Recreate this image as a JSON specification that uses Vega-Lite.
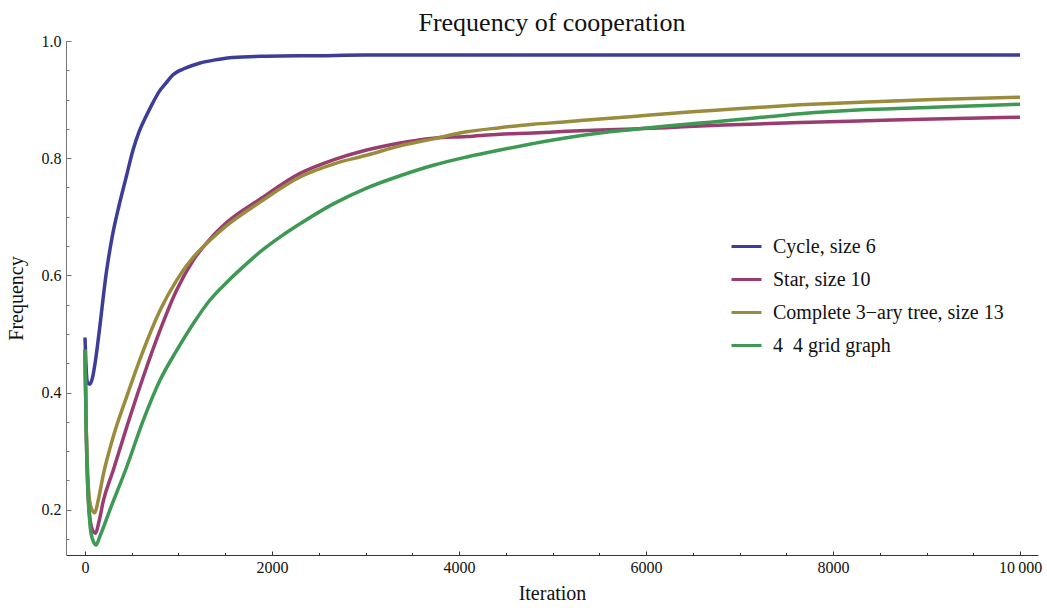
{
  "$schema": "https://vega.github.io/schema/vega-lite/v6.json",
  "width": 972,
  "height": 514,
  "autosize": {"type": "none"},
  "padding": {"left": 66, "top": 41, "right": 9, "bottom": 53},
  "background": "white",
  "title": {"text": "Frequency of cooperation", "font": "Liberation Serif", "fontSize": 26, "fontWeight": "normal", "color": "#111111", "anchor": "middle", "offset": -3},
  "config": {
    "view": {"stroke": null},
    "axis": {"grid": false, "labelFont": "Liberation Serif", "titleFont": "Liberation Serif", "labelColor": "#111111", "titleColor": "#111111", "titleFontWeight": "normal"}
  },
  "data": {"values": [
    {"series": "Cycle, size 6", "iteration": 0, "freq": 0.494},
    {"series": "Cycle, size 6", "iteration": 10, "freq": 0.45},
    {"series": "Cycle, size 6", "iteration": 25, "freq": 0.418},
    {"series": "Cycle, size 6", "iteration": 50, "freq": 0.414},
    {"series": "Cycle, size 6", "iteration": 80, "freq": 0.425},
    {"series": "Cycle, size 6", "iteration": 110, "freq": 0.452},
    {"series": "Cycle, size 6", "iteration": 153, "freq": 0.505},
    {"series": "Cycle, size 6", "iteration": 225, "freq": 0.601},
    {"series": "Cycle, size 6", "iteration": 296, "freq": 0.67},
    {"series": "Cycle, size 6", "iteration": 367, "freq": 0.721},
    {"series": "Cycle, size 6", "iteration": 438, "freq": 0.766},
    {"series": "Cycle, size 6", "iteration": 510, "freq": 0.812},
    {"series": "Cycle, size 6", "iteration": 581, "freq": 0.846},
    {"series": "Cycle, size 6", "iteration": 652, "freq": 0.871},
    {"series": "Cycle, size 6", "iteration": 724, "freq": 0.894},
    {"series": "Cycle, size 6", "iteration": 795, "freq": 0.914},
    {"series": "Cycle, size 6", "iteration": 866, "freq": 0.928},
    {"series": "Cycle, size 6", "iteration": 938, "freq": 0.942},
    {"series": "Cycle, size 6", "iteration": 1080, "freq": 0.954},
    {"series": "Cycle, size 6", "iteration": 1223, "freq": 0.962},
    {"series": "Cycle, size 6", "iteration": 1401, "freq": 0.968},
    {"series": "Cycle, size 6", "iteration": 1580, "freq": 0.972},
    {"series": "Cycle, size 6", "iteration": 1936, "freq": 0.974},
    {"series": "Cycle, size 6", "iteration": 2500, "freq": 0.975},
    {"series": "Cycle, size 6", "iteration": 3000, "freq": 0.976},
    {"series": "Cycle, size 6", "iteration": 4000, "freq": 0.976},
    {"series": "Cycle, size 6", "iteration": 5000, "freq": 0.976},
    {"series": "Cycle, size 6", "iteration": 6000, "freq": 0.976},
    {"series": "Cycle, size 6", "iteration": 7000, "freq": 0.976},
    {"series": "Cycle, size 6", "iteration": 8000, "freq": 0.976},
    {"series": "Cycle, size 6", "iteration": 9000, "freq": 0.976},
    {"series": "Cycle, size 6", "iteration": 10000, "freq": 0.976},

    {"series": "Star, size 10", "iteration": 0, "freq": 0.473},
    {"series": "Star, size 10", "iteration": 15, "freq": 0.32},
    {"series": "Star, size 10", "iteration": 30, "freq": 0.235},
    {"series": "Star, size 10", "iteration": 50, "freq": 0.19},
    {"series": "Star, size 10", "iteration": 75, "freq": 0.168},
    {"series": "Star, size 10", "iteration": 112, "freq": 0.16},
    {"series": "Star, size 10", "iteration": 150, "freq": 0.18},
    {"series": "Star, size 10", "iteration": 196, "freq": 0.215},
    {"series": "Star, size 10", "iteration": 303, "freq": 0.268},
    {"series": "Star, size 10", "iteration": 446, "freq": 0.341},
    {"series": "Star, size 10", "iteration": 624, "freq": 0.427},
    {"series": "Star, size 10", "iteration": 802, "freq": 0.506},
    {"series": "Star, size 10", "iteration": 981, "freq": 0.575},
    {"series": "Star, size 10", "iteration": 1159, "freq": 0.626},
    {"series": "Star, size 10", "iteration": 1337, "freq": 0.662},
    {"series": "Star, size 10", "iteration": 1515, "freq": 0.69},
    {"series": "Star, size 10", "iteration": 1872, "freq": 0.73},
    {"series": "Star, size 10", "iteration": 2300, "freq": 0.774},
    {"series": "Star, size 10", "iteration": 2656, "freq": 0.797},
    {"series": "Star, size 10", "iteration": 3012, "freq": 0.814},
    {"series": "Star, size 10", "iteration": 3369, "freq": 0.826},
    {"series": "Star, size 10", "iteration": 3725, "freq": 0.834},
    {"series": "Star, size 10", "iteration": 4082, "freq": 0.837},
    {"series": "Star, size 10", "iteration": 4438, "freq": 0.841},
    {"series": "Star, size 10", "iteration": 4795, "freq": 0.843},
    {"series": "Star, size 10", "iteration": 5151, "freq": 0.846},
    {"series": "Star, size 10", "iteration": 5508, "freq": 0.848},
    {"series": "Star, size 10", "iteration": 5864, "freq": 0.85},
    {"series": "Star, size 10", "iteration": 6221, "freq": 0.852},
    {"series": "Star, size 10", "iteration": 6577, "freq": 0.855},
    {"series": "Star, size 10", "iteration": 6934, "freq": 0.857},
    {"series": "Star, size 10", "iteration": 7647, "freq": 0.861},
    {"series": "Star, size 10", "iteration": 8360, "freq": 0.864},
    {"series": "Star, size 10", "iteration": 9073, "freq": 0.867},
    {"series": "Star, size 10", "iteration": 10000, "freq": 0.87},

    {"series": "Complete 3−ary tree, size 13", "iteration": 0, "freq": 0.473},
    {"series": "Complete 3−ary tree, size 13", "iteration": 15, "freq": 0.33},
    {"series": "Complete 3−ary tree, size 13", "iteration": 30, "freq": 0.26},
    {"series": "Complete 3−ary tree, size 13", "iteration": 50, "freq": 0.215},
    {"series": "Complete 3−ary tree, size 13", "iteration": 75, "freq": 0.2},
    {"series": "Complete 3−ary tree, size 13", "iteration": 105, "freq": 0.195},
    {"series": "Complete 3−ary tree, size 13", "iteration": 140, "freq": 0.215},
    {"series": "Complete 3−ary tree, size 13", "iteration": 196, "freq": 0.26},
    {"series": "Complete 3−ary tree, size 13", "iteration": 303, "freq": 0.325},
    {"series": "Complete 3−ary tree, size 13", "iteration": 446, "freq": 0.393},
    {"series": "Complete 3−ary tree, size 13", "iteration": 624, "freq": 0.472},
    {"series": "Complete 3−ary tree, size 13", "iteration": 802, "freq": 0.54},
    {"series": "Complete 3−ary tree, size 13", "iteration": 981, "freq": 0.592},
    {"series": "Complete 3−ary tree, size 13", "iteration": 1159, "freq": 0.631},
    {"series": "Complete 3−ary tree, size 13", "iteration": 1337, "freq": 0.66},
    {"series": "Complete 3−ary tree, size 13", "iteration": 1515, "freq": 0.685},
    {"series": "Complete 3−ary tree, size 13", "iteration": 1872, "freq": 0.725},
    {"series": "Complete 3−ary tree, size 13", "iteration": 2300, "freq": 0.768},
    {"series": "Complete 3−ary tree, size 13", "iteration": 2656, "freq": 0.79},
    {"series": "Complete 3−ary tree, size 13", "iteration": 3012, "freq": 0.805},
    {"series": "Complete 3−ary tree, size 13", "iteration": 3369, "freq": 0.821},
    {"series": "Complete 3−ary tree, size 13", "iteration": 3725, "freq": 0.833},
    {"series": "Complete 3−ary tree, size 13", "iteration": 4082, "freq": 0.845},
    {"series": "Complete 3−ary tree, size 13", "iteration": 4438, "freq": 0.852},
    {"series": "Complete 3−ary tree, size 13", "iteration": 4795, "freq": 0.858},
    {"series": "Complete 3−ary tree, size 13", "iteration": 5151, "freq": 0.862},
    {"series": "Complete 3−ary tree, size 13", "iteration": 5508, "freq": 0.867},
    {"series": "Complete 3−ary tree, size 13", "iteration": 5864, "freq": 0.871},
    {"series": "Complete 3−ary tree, size 13", "iteration": 6221, "freq": 0.876},
    {"series": "Complete 3−ary tree, size 13", "iteration": 6577, "freq": 0.88},
    {"series": "Complete 3−ary tree, size 13", "iteration": 6934, "freq": 0.884},
    {"series": "Complete 3−ary tree, size 13", "iteration": 7647, "freq": 0.891},
    {"series": "Complete 3−ary tree, size 13", "iteration": 8360, "freq": 0.896},
    {"series": "Complete 3−ary tree, size 13", "iteration": 9073, "freq": 0.9},
    {"series": "Complete 3−ary tree, size 13", "iteration": 10000, "freq": 0.904},

    {"series": "4\u00a0\u00a04 grid graph", "iteration": 0, "freq": 0.473},
    {"series": "4\u00a0\u00a04 grid graph", "iteration": 10, "freq": 0.36},
    {"series": "4\u00a0\u00a04 grid graph", "iteration": 18, "freq": 0.302},
    {"series": "4\u00a0\u00a04 grid graph", "iteration": 36, "freq": 0.217},
    {"series": "4\u00a0\u00a04 grid graph", "iteration": 53, "freq": 0.175},
    {"series": "4\u00a0\u00a04 grid graph", "iteration": 80, "freq": 0.15},
    {"series": "4\u00a0\u00a04 grid graph", "iteration": 118, "freq": 0.14},
    {"series": "4\u00a0\u00a04 grid graph", "iteration": 160, "freq": 0.155},
    {"series": "4\u00a0\u00a04 grid graph", "iteration": 267, "freq": 0.2},
    {"series": "4\u00a0\u00a04 grid graph", "iteration": 446, "freq": 0.273},
    {"series": "4\u00a0\u00a04 grid graph", "iteration": 624, "freq": 0.353},
    {"series": "4\u00a0\u00a04 grid graph", "iteration": 802, "freq": 0.421},
    {"series": "4\u00a0\u00a04 grid graph", "iteration": 981, "freq": 0.472},
    {"series": "4\u00a0\u00a04 grid graph", "iteration": 1159, "freq": 0.518},
    {"series": "4\u00a0\u00a04 grid graph", "iteration": 1337, "freq": 0.558},
    {"series": "4\u00a0\u00a04 grid graph", "iteration": 1515, "freq": 0.588},
    {"series": "4\u00a0\u00a04 grid graph", "iteration": 1694, "freq": 0.615},
    {"series": "4\u00a0\u00a04 grid graph", "iteration": 1872, "freq": 0.64},
    {"series": "4\u00a0\u00a04 grid graph", "iteration": 2100, "freq": 0.667},
    {"series": "4\u00a0\u00a04 grid graph", "iteration": 2300, "freq": 0.688},
    {"series": "4\u00a0\u00a04 grid graph", "iteration": 2656, "freq": 0.722},
    {"series": "4\u00a0\u00a04 grid graph", "iteration": 3012, "freq": 0.749},
    {"series": "4\u00a0\u00a04 grid graph", "iteration": 3369, "freq": 0.77},
    {"series": "4\u00a0\u00a04 grid graph", "iteration": 3725, "freq": 0.788},
    {"series": "4\u00a0\u00a04 grid graph", "iteration": 4082, "freq": 0.802},
    {"series": "4\u00a0\u00a04 grid graph", "iteration": 4438, "freq": 0.814},
    {"series": "4\u00a0\u00a04 grid graph", "iteration": 4795, "freq": 0.825},
    {"series": "4\u00a0\u00a04 grid graph", "iteration": 5151, "freq": 0.835},
    {"series": "4\u00a0\u00a04 grid graph", "iteration": 5508, "freq": 0.843},
    {"series": "4\u00a0\u00a04 grid graph", "iteration": 5864, "freq": 0.849},
    {"series": "4\u00a0\u00a04 grid graph", "iteration": 6221, "freq": 0.855},
    {"series": "4\u00a0\u00a04 grid graph", "iteration": 6577, "freq": 0.86},
    {"series": "4\u00a0\u00a04 grid graph", "iteration": 6934, "freq": 0.865},
    {"series": "4\u00a0\u00a04 grid graph", "iteration": 7647, "freq": 0.876},
    {"series": "4\u00a0\u00a04 grid graph", "iteration": 8360, "freq": 0.883},
    {"series": "4\u00a0\u00a04 grid graph", "iteration": 9073, "freq": 0.887},
    {"series": "4\u00a0\u00a04 grid graph", "iteration": 10000, "freq": 0.892}
  ]},
  "layer": [
    {
      "mark": {"type": "line", "strokeWidth": 3.5, "interpolate": "monotone", "clip": true},
      "encoding": {
        "x": {
          "field": "iteration", "type": "quantitative",
          "scale": {"domain": [-203, 10192], "nice": false, "zero": false},
          "axis": {"orient": "bottom", "values": [0, 2000, 4000, 6000, 8000, 10000], "format": "d",
                   "labelExpr": "datum.value == 10000 ? '10\u2009000' : datum.label",
                   "tickSize": -4, "labelPadding": 8, "labelFontSize": 16, "tickColor": "#333333", "domainColor": "#333333",
                   "title": "Iteration", "titleFontSize": 20, "titlePadding": 8}
        },
        "y": {
          "field": "freq", "type": "quantitative",
          "scale": {"domain": [0.1228, 1.0], "nice": false, "zero": false},
          "axis": {"orient": "left", "values": [0.2, 0.4, 0.6, 0.8, 1.0], "format": ".1f",
                   "tickSize": -5, "labelPadding": 10, "labelFontSize": 16, "tickColor": "#777777", "domainColor": "#777777",
                   "title": "Frequency", "titleFontSize": 20, "titlePadding": 15}
        },
        "color": {
          "field": "series", "type": "nominal",
          "scale": {
            "domain": ["Cycle, size 6", "Star, size 10", "Complete 3−ary tree, size 13", "4\u00a0\u00a04 grid graph"],
            "range": ["#3d3d99", "#993d71", "#998c3d", "#3d9954"]
          },
          "legend": {"orient": "none", "legendX": 664, "legendY": 189, "title": null, "symbolType": "stroke", "symbolSize": 900,
                     "symbolStrokeWidth": 3, "labelFont": "Liberation Serif", "labelFontSize": 20, "labelColor": "#111111",
                     "labelOffset": 10, "rowPadding": 6, "padding": 0, "labelLimit": 400}
        }
      }
    },
    {
      "mark": {"type": "line", "opacity": 0},
      "encoding": {
        "x": {
          "field": "iteration", "type": "quantitative",
          "scale": {"domain": [-203, 10192], "nice": false, "zero": false},
          "axis": {"orient": "bottom", "values": [0, 500, 1000, 1500, 2000, 2500, 3000, 3500, 4000, 4500, 5000, 5500, 6000, 6500, 7000, 7500, 8000, 8500, 9000, 9500, 10000],
                   "labels": false, "domain": false, "tickSize": -2.5, "tickColor": "#333333", "title": null}
        },
        "y": {
          "field": "freq", "type": "quantitative",
          "scale": {"domain": [0.1228, 1.0], "nice": false, "zero": false},
          "axis": {"orient": "left", "values": [0.15, 0.2, 0.25, 0.3, 0.35, 0.4, 0.45, 0.5, 0.55, 0.6, 0.65, 0.7, 0.75, 0.8, 0.85, 0.9, 0.95, 1.0],
                   "labels": false, "domain": false, "tickSize": -3, "tickColor": "#777777", "title": null}
        },
        "detail": {"field": "series", "type": "nominal"}
      }
    }
  ],
  "resolve": {"axis": {"x": "independent", "y": "independent"}}
}
